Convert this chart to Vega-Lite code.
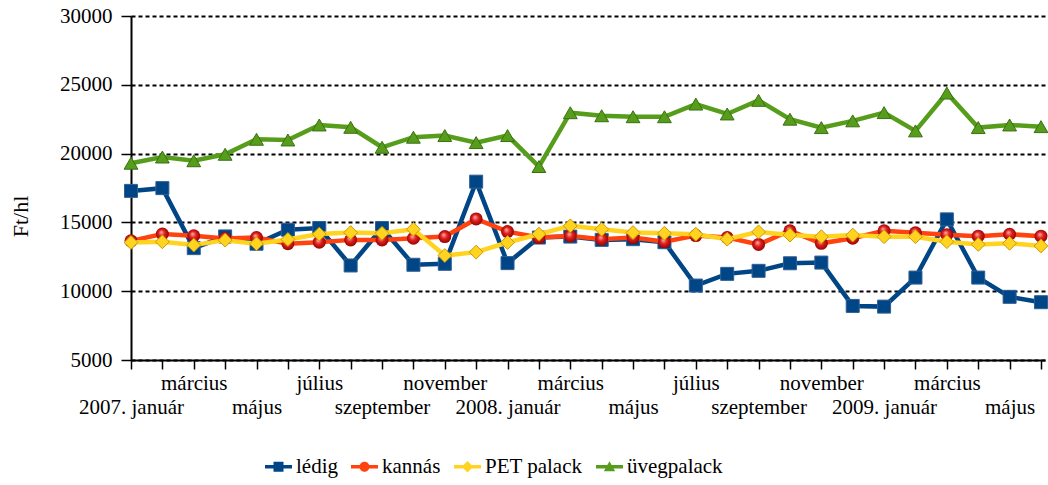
{
  "$schema": "https://vega.github.io/schema/vega-lite/v6.json",
  "width": 914,
  "height": 344,
  "autosize": "none",
  "padding": {"left": 131, "top": 16, "right": 3, "bottom": 125},
  "background": "white",
  "config": {
    "view": {"stroke": null},
    "font": "Liberation Serif",
    "axis": {"labelColor": "black", "titleColor": "black", "domainColor": "black", "tickColor": "black"}
  },
  "data": {
    "values": [
      {"t": "2007-01", "ledig": 17290, "kannas": 13660, "pet": 13540, "uveg": 19300},
      {"t": "2007-02", "ledig": 17490, "kannas": 14150, "pet": 13590, "uveg": 19750},
      {"t": "2007-03", "ledig": 13130, "kannas": 14030, "pet": 13350, "uveg": 19480},
      {"t": "2007-04", "ledig": 13980, "kannas": 13830, "pet": 13710, "uveg": 19950},
      {"t": "2007-05", "ledig": 13450, "kannas": 13900, "pet": 13450, "uveg": 21040},
      {"t": "2007-06", "ledig": 14470, "kannas": 13450, "pet": 13760, "uveg": 20990},
      {"t": "2007-07", "ledig": 14590, "kannas": 13560, "pet": 14150, "uveg": 22080},
      {"t": "2007-08", "ledig": 11870, "kannas": 13730, "pet": 14260, "uveg": 21910},
      {"t": "2007-09", "ledig": 14590, "kannas": 13730, "pet": 14210, "uveg": 20460},
      {"t": "2007-10", "ledig": 11920, "kannas": 13850, "pet": 14500, "uveg": 21190},
      {"t": "2007-11", "ledig": 11990, "kannas": 13970, "pet": 12590, "uveg": 21310},
      {"t": "2007-12", "ledig": 17960, "kannas": 15250, "pet": 12840, "uveg": 20800},
      {"t": "2008-01", "ledig": 12040, "kannas": 14330, "pet": 13540, "uveg": 21310},
      {"t": "2008-02", "ledig": 13900, "kannas": 13900, "pet": 14150, "uveg": 19060},
      {"t": "2008-03", "ledig": 13970, "kannas": 14020, "pet": 14750, "uveg": 22970},
      {"t": "2008-04", "ledig": 13730, "kannas": 13780, "pet": 14500, "uveg": 22750},
      {"t": "2008-05", "ledig": 13780, "kannas": 13900, "pet": 14260, "uveg": 22680},
      {"t": "2008-06", "ledig": 13560, "kannas": 13590, "pet": 14210, "uveg": 22680},
      {"t": "2008-07", "ledig": 10410, "kannas": 14040, "pet": 14140, "uveg": 23600},
      {"t": "2008-08", "ledig": 11260, "kannas": 13900, "pet": 13780, "uveg": 22880},
      {"t": "2008-09", "ledig": 11480, "kannas": 13400, "pet": 14310, "uveg": 23870},
      {"t": "2008-10", "ledig": 12030, "kannas": 14390, "pet": 14080, "uveg": 22500},
      {"t": "2008-11", "ledig": 12080, "kannas": 13480, "pet": 13960, "uveg": 21890},
      {"t": "2008-12", "ledig": 8930, "kannas": 13850, "pet": 14080, "uveg": 22380},
      {"t": "2009-01", "ledig": 8880, "kannas": 14390, "pet": 13960, "uveg": 22980},
      {"t": "2009-02", "ledig": 10990, "kannas": 14240, "pet": 13960, "uveg": 21650},
      {"t": "2009-03", "ledig": 15220, "kannas": 14110, "pet": 13600, "uveg": 24400},
      {"t": "2009-04", "ledig": 10990, "kannas": 14000, "pet": 13400, "uveg": 21890},
      {"t": "2009-05", "ledig": 9590, "kannas": 14140, "pet": 13480, "uveg": 22080},
      {"t": "2009-06", "ledig": 9200, "kannas": 14000, "pet": 13290, "uveg": 21960}
    ]
  },
  "transform": [{"fold": ["ledig", "kannas", "pet", "uveg"], "as": ["k", "v"]}],
  "encoding": {
    "x": {
      "field": "t", "type": "ordinal",
      "scale": {"type": "point", "padding": 0.064, "align": 0},
      "axis": {
        "title": null, "labelAngle": 0, "labelOverlap": false, "labelBound": false, "labelFlush": false,
        "labelFont": "Liberation Serif",
        "labelFontSize": 21, "labelLineHeight": 24, "labelBaseline": "top", "labelPadding": 3,
        "tickSize": 9, "tickWidth": 1.5, "domainWidth": 2, "grid": false,
        "labelExpr": "substring(datum.value,5,7)=='01' ? ['', substring(datum.value,0,4)+'. január'] : substring(datum.value,5,7)=='03' ? 'március' : substring(datum.value,5,7)=='05' ? ['', 'május'] : substring(datum.value,5,7)=='07' ? 'július' : substring(datum.value,5,7)=='09' ? ['', 'szeptember'] : substring(datum.value,5,7)=='11' ? 'november' : ''"
      }
    },
    "y": {
      "field": "v", "type": "quantitative",
      "scale": {"domain": [5000, 30000], "nice": false, "zero": false},
      "axis": {
        "title": "Ft/hl", "titleFont": "Liberation Serif", "titleFontSize": 22, "titleFontWeight": "normal", "titleAngle": -90,
        "titleX": -111, "titleY": 200, "titleAlign": "center", "titleBaseline": "middle",
        "values": [5000, 10000, 15000, 20000, 25000, 30000], "format": "d",
        "labelFont": "Liberation Serif", "labelFontSize": 21, "labelPadding": 9, "tickSize": 10, "tickWidth": 1.5, "domainWidth": 2,
        "grid": true, "gridColor": "black", "gridDash": [4, 3], "gridWidth": 2, "gridOpacity": 1
      }
    }
  },
  "layer": [
    {
      "transform": [{"filter": "datum.k=='ledig'"}],
      "mark": {"type": "line", "strokeWidth": 4.5},
      "encoding": {
        "color": {
          "datum": "lédig",
          "scale": {"domain": ["lédig", "kannás", "PET palack", "üvegpalack"], "range": ["#004586", "#ff420e", "#ffd320", "#579d1c"]},
          "legend": {
            "title": null, "orient": "none", "direction": "horizontal", "legendX": 134, "legendY": 437,
            "labelFont": "Liberation Serif", "labelFontSize": 21, "labelFontWeight": "normal", "labelColor": "black",
            "symbolSize": 729, "labelOffset": 4, "columnPadding": 13,
            "encode": {
              "symbols": {
                "update": {
                  "shape": {"signal": "datum.value=='lédig' ? 'M-1,-0.13H1V0.13H-1Z M-0.37,-0.37H0.37V0.37H-0.37Z' : datum.value=='kannás' ? 'M-1,-0.13H1V0.13H-1Z M0.37,0A0.37,0.37 0 1,1 -0.37,0A0.37,0.37 0 1,1 0.37,0Z' : datum.value=='PET palack' ? 'M-1,-0.13H1V0.13H-1Z M0,-0.42L0.42,0L0,0.42L-0.42,0Z' : 'M-1,-0.13H1V0.13H-1Z M0,-0.4L0.42,0.33L-0.42,0.33Z'"},
                  "fill": {"signal": "datum.value=='lédig' ? '#004586' : datum.value=='kannás' ? '#ff420e' : datum.value=='PET palack' ? '#ffd320' : '#579d1c'"},
                  "stroke": {"value": "transparent"},
                  "strokeWidth": {"value": 0},
                  "opacity": {"value": 1}
                }
              }
            }
          }
        }
      }
    },
    {
      "transform": [{"filter": "datum.k=='ledig'"}],
      "mark": {"type": "point", "shape": "square", "size": 169, "filled": true, "fill": "#004586", "stroke": "#2f5f93", "strokeWidth": 1, "opacity": 1}
    },
    {
      "transform": [{"filter": "datum.k=='kannas'"}],
      "mark": {"type": "line", "strokeWidth": 4.5},
      "encoding": {"color": {"datum": "kannás"}}
    },
    {
      "transform": [{"filter": "datum.k=='kannas'"}],
      "mark": {"type": "point", "shape": "circle", "size": 169, "filled": true, "opacity": 1, "strokeWidth": 0,
        "fill": {"gradient": "radial", "x1": 0.4, "y1": 0.35, "r1": 0, "x2": 0.5, "y2": 0.5, "r2": 0.55,
          "stops": [{"offset": 0, "color": "#ffb3b3"}, {"offset": 0.45, "color": "#e0201c"}, {"offset": 1, "color": "#8a0000"}]}}
    },
    {
      "transform": [{"filter": "datum.k=='pet'"}],
      "mark": {"type": "line", "strokeWidth": 4.5},
      "encoding": {"color": {"datum": "PET palack"}}
    },
    {
      "transform": [{"filter": "datum.k=='pet'"}],
      "mark": {"type": "point", "shape": "diamond", "size": 190, "filled": true, "fill": "#ffd320", "stroke": "#c89b00", "strokeWidth": 1, "opacity": 1}
    },
    {
      "transform": [{"filter": "datum.k=='uveg'"}],
      "mark": {"type": "line", "strokeWidth": 4.5},
      "encoding": {"color": {"datum": "üvegpalack"}}
    },
    {
      "transform": [{"filter": "datum.k=='uveg'"}],
      "mark": {"type": "point", "shape": "triangle-up", "size": 190, "filled": true, "fill": "#579d1c", "stroke": "#3b7012", "strokeWidth": 1, "opacity": 1}
    }
  ]
}
